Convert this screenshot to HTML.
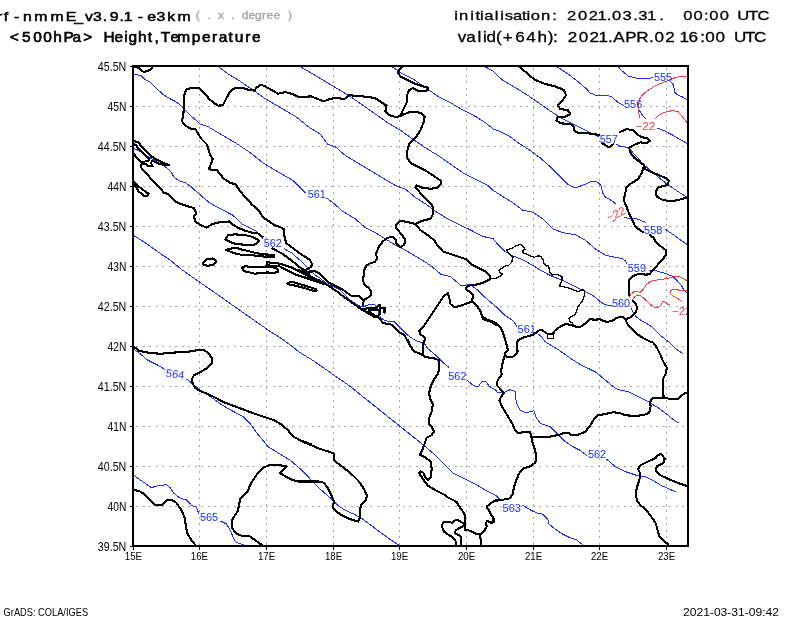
<!DOCTYPE html>
<html lang="en"><head><meta charset="utf-8"><title>wrf-nmmE 500hPa Height,Temperature</title>
<style>html,body{margin:0;padding:0;background:#fff}body{width:800px;height:618px;overflow:hidden}svg{display:block}text{font-family:"Liberation Sans","DejaVu Sans",sans-serif}</style></head><body>
<svg width="800" height="618" viewBox="0 0 800 618">
<rect width="800" height="618" fill="#fff"/>
<defs><clipPath id="plot"><rect x="133" y="66" width="555" height="480"/></clipPath></defs>
<g stroke="#a8a8a8" stroke-width="1" stroke-dasharray="2 4.5" fill="none" shape-rendering="crispEdges">
<line x1="199.5" y1="68" x2="199.5" y2="546"/>
<line x1="266.5" y1="68" x2="266.5" y2="546"/>
<line x1="333.5" y1="68" x2="333.5" y2="546"/>
<line x1="399.5" y1="68" x2="399.5" y2="546"/>
<line x1="466.5" y1="68" x2="466.5" y2="546"/>
<line x1="533.5" y1="68" x2="533.5" y2="546"/>
<line x1="599.5" y1="68" x2="599.5" y2="546"/>
<line x1="666.5" y1="68" x2="666.5" y2="546"/>
<line x1="136" y1="106.5" x2="688" y2="106.5"/>
<line x1="136" y1="146.5" x2="688" y2="146.5"/>
<line x1="136" y1="186.5" x2="688" y2="186.5"/>
<line x1="136" y1="226.5" x2="688" y2="226.5"/>
<line x1="136" y1="266.5" x2="688" y2="266.5"/>
<line x1="136" y1="306.5" x2="688" y2="306.5"/>
<line x1="136" y1="346.5" x2="688" y2="346.5"/>
<line x1="136" y1="386.5" x2="688" y2="386.5"/>
<line x1="136" y1="426.5" x2="688" y2="426.5"/>
<line x1="136" y1="466.5" x2="688" y2="466.5"/>
<line x1="136" y1="506.5" x2="688" y2="506.5"/>
</g>
<g clip-path="url(#plot)">
<g fill="none" stroke="#1830ff" stroke-width="1" stroke-linejoin="round" shape-rendering="crispEdges">
<path d="M618.2 66.9 L623 71.7 L628.5 76.2 L636.8 78.3 L645 78.3 L653.3 77.9"/>
<path d="M670.5 81.3 L673.9 85.4 L674.2 91.6 L676.7 94.4 L682.2 96.9 L687.7 99.9"/>
<path d="M557.7 67.1 L567.8 73.8 L577.8 81.4 L587.8 90.1 L590 93 L595.5 95.1 L607.9 95.5 L612 97.1 L617.5 102 L623.7 105.4"/>
<path d="M638.8 109.5 L641.6 114.3 L645.7 118.5"/>
<path d="M657.4 128.1 L664.3 130.8 L672.5 135 L679.4 139.1 L687.7 143.9"/>
<path d="M484.4 66.3 L493.2 71.3 L502.5 80.1 L515.1 87.6 L527.6 95.2 L540.2 103.9 L552.7 112.7 L562.8 119 L572.8 124 L585.3 130.3 L595.4 135.3 L599.1 136.6"/>
<path d="M616.7 144.1 L620.5 146.6 L628 147.3 L635.5 155.4 L643 164.1 L653.1 172.9 L665.6 183 L678.2 191.7 L688.2 198"/>
<path d="M391.6 66.3 L400.4 72.6 L412.9 78.9 L425.4 87.6 L438 96.4 L450.5 102.7 L463.1 110.2 L475.6 116.5 L485.6 122.8 L493.2 129 L500 131.5 L510.1 136.6 L520.1 144.1 L530.1 150.4 L540.2 157.9 L550.2 166.7 L560.2 176.7 L567.8 184.2 L575.3 188 L585.3 184.2 L590.4 181.7 L592.4 181.1 L597.9 182.1 L601.3 186.2 L602.7 193.1 L605.4 197.2 L611.6 200.6 L616.5 204.5"/>
<path d="M624 217.1 L629.5 218.8 L635 218.2 L640.5 220.2 L645.7 222.4"/>
<path d="M664.6 228.8 L670.8 233 L677.7 237.8 L683.2 241.9 L687.3 244.6"/>
<path d="M299.4 66.3 L310.7 72.6 L312.5 73.8 L325.1 81.4 L337.6 88.9 L350.2 96.4 L362.7 105.2 L375.3 114 L387.8 122.8 L400.4 130.3 L412.9 139.1 L425.4 147.8 L438 155.4 L450.5 164.1 L463.1 172.9 L475.6 179.2 L488.2 185.5 L492.5 190 L502.5 196.3 L512.6 202.5 L522.6 210.1 L532.6 212.1 L542.7 218.9 L552.7 228.9 L562.8 232.6 L575.3 234.7 L585.3 240.2 L595.4 249 L605.4 255.2 L615.4 257.2 L623 259 L625 260.6 L626.9 263.8"/>
<path d="M648.1 270 L653.8 270.2 L660 271.9 L666.2 273.8 L672.5 276.2 L677.5 281.2 L681.2 285 L683.8 290 L687.5 293.1"/>
<path d="M217.8 66.3 L227.9 73.8 L240.4 81.4 L253 90.1 L265.5 98.9 L280.6 107.7 L295.6 116.5 L308.2 126.5 L310 127.8 L320.1 134 L327.6 144.1 L335.1 146.6 L345.2 155.4 L357.7 162.9 L370.2 170.4 L382.8 177.9 L395.3 185.5 L405.4 189.2 L415.4 197.5 L425.4 203.8 L435.5 211.3 L445.5 217.6 L458.1 223.9 L470.6 230.1 L483.1 236.4 L493.2 238.9 L497.5 243.9 L505.1 251.5 L512.6 255.7 L522.6 259.7 L532.6 265.3 L542.7 271.5 L552.7 276.6 L562.8 280.3 L572.8 285.3 L582.8 290.4 L592.9 295.4 L600.4 301.6 L605.4 304.9 L611.7 305.4"/>
<path d="M631.2 308.1 L633.1 312.5 L636.2 316.9 L641.2 320.6 L646.2 323.1 L651.2 326.5 L660.6 335.5 L670.6 343.5 L675.6 348.8 L683.2 353.8"/>
<path d="M133.8 74.4 L141.2 75.6 L145 79.4 L150 81.9 L157.5 89.4 L163.8 95 L170 98.8 L175 101.2 L180 105 L190.2 115.2 L200.3 124 L207.8 126.5 L220.4 134 L235.4 142.8 L250.5 152.9 L263 162.9 L275.5 170.4 L293.1 180.5 L305.6 193"/>
<path d="M326.3 198 L333.9 203.5 L342.6 211.3 L355.2 218.9 L365.2 227.6 L375.3 232.6 L385.3 238.9 L395.3 245.2 L405.4 250.2 L417.9 257.7 L430.5 265.3 L440.5 274 L450.5 276.6 L460.6 285.3 L470.6 284.8 L478.1 290.4 L485.6 297.9 L490 301.6 L497.5 307.9 L505.1 315.4 L512.6 320.5 L513.9 321.8 L516.9 326.4"/>
<path d="M538 333.9 L541.7 336.9 L544.8 341.4 L550.8 345.2 L558.3 349.7 L565.8 355 L573.4 360.2 L580.9 364.8 L588.4 368.5 L596 372.3 L605.4 380.2 L612.9 386.4 L617.9 389.7 L628 391.5 L638 396.5 L648.1 401.5 L658.1 407.8 L668.1 415.3 L675.6 421.6 L679.4 422.8"/>
<path d="M133.1 148.1 L137.5 150 L142.5 153.1 L148.8 156.9 L155 160.6 L161.2 164.4 L166.2 167.5 L171.2 171.9 L173.8 176.9 L178.8 180.6 L185 182.5 L191.2 186.9 L197.5 192.5 L203.8 198.1 L210 203.1 L222.9 210.1 L232.5 215 L237.5 219.4 L242.5 224.4 L248.8 227.5 L256.2 231.2 L260 235.6 L263.1 238.8"/>
<path d="M283.8 248.1 L287.5 250.6 L291.2 252.5 L296.2 256.9 L301.2 261.2 L306.2 266.2 L310 270.6 L315 275 L320 278.1 L327.5 284.4 L333.8 286.9 L340 290 L345 295 L348.8 299.4 L353.8 302.5 L360 306.2 L365 306.2 L370 304.4 L375 305 L377.5 308.8 L378.8 313.8 L381.2 318.1 L385 320.6 L390 321.5 L394.1 321.7 L400.4 328 L407.9 335.5 L415.4 340.5 L424.2 343.5 L427.9 348.8 L435.5 355.1 L443 362.6 L449.3 367.6"/>
<path d="M466.8 380.2 L473.1 385.2 L478.1 387.2 L481.9 381.4 L485.6 381.4 L489.4 386.4 L495.7 390.2 L497.5 392.7 L503.8 392.7 L510.1 389.7 L515.1 391.5 L516.3 402.8 L520.1 410.3 L526.4 412.8 L533.9 410.8 L536.4 417.8 L540.2 423.3 L550.2 426.6 L557.7 434.1 L565.3 441.6 L572.8 446.7 L580.3 450.4 L586.6 455.4"/>
<path d="M606.7 459.2 L615.4 466.7 L625.5 471.7 L635.5 475 L645.5 476.8 L653.1 480.5 L660.6 485.2 L670.6 489.7 L675.6 491.5"/>
<path d="M133.3 235.2 L145.1 242.7 L157.6 251.5 L170.2 260.2 L182.7 270.3 L195.3 279.1 L207.8 287.8 L220.4 296.6 L232.9 305.4 L245.4 314.2 L258 323 L270.5 331.7 L280.6 338 L289.3 344.3 L300 352.6 L312.5 360.1 L325.1 368.9 L337.6 377.7 L350.2 386.4 L362.7 396.5 L375.3 406.5 L387.8 416.6 L400.4 426.6 L412.9 436.6 L425.4 446.7 L435.5 455.4 L445.5 465.5 L453 473 L463.1 478 L474.4 483.5 L485.6 490.2 L495.7 495.3 L499.9 499 L496.3 496.5 L501.3 500.3"/>
<path d="M522.6 505.3 L530.1 509.8 L536.4 512.8 L542.7 514.1 L547.7 519.1 L549 524.1 L555.2 529.1 L562.8 534.1 L570.3 537.9 L576.6 539.9 L582.8 544.7"/>
<path d="M133.3 348.8 L140.1 353.8 L147.6 360.1 L157.6 365.1 L165.2 369.6"/>
<path d="M186.5 378.9 L192.8 383.9 L200.3 390.2 L210.3 396.5 L220.4 404 L230.4 409.8 L242.9 416.6 L250.5 424.1 L256.7 432.9 L263 440.4 L268 446.7 L278.1 452.9 L290.6 460.5 L300.6 469.2 L308.2 476.8 L314.4 483.5 L320.1 489 L330.1 497.8 L337.6 505.3 L345.2 510.3 L353.9 514.1 L362.7 519.1 L372.8 526.6 L382.8 534.1 L391.6 540.4 L398.3 544.9"/>
<path d="M133.3 474.7 L138.8 479 L145.1 483.2 L151.4 487.7 L157.6 485.7 L166.4 484.7 L170.2 487.7 L173.9 493.3 L180.2 498.3 L186.5 499.8 L191.5 505.3 L196.5 507.3 L199 514.1"/>
<path d="M220.4 520.9 L226.6 524.1 L230.4 530.4 L232.9 536.7 L235.4 541.7 L239.2 543.7 L244.2 544.7"/>
</g>
<g fill="none" stroke="#fa3c3c" stroke-width="1" stroke-linejoin="round" shape-rendering="crispEdges">
<path d="M687.9 76.2 L679.4 76.5 L672.5 78.6 L664.3 82 L656 85.4 L649.1 89.6 L643.6 93.7 L640.2 97.8 L638.4 104 L638.1 109.5 L639.2 115 L640.2 118.5"/>
<path d="M655.3 118.5 L658.8 115 L664.3 112.3 L672.5 110.6 L678 111.6 L682.2 116.4 L686.3 121.9 L687.9 123.5"/>
<path d="M613 221.3 L616 219.1"/>
<path d="M629.4 298.1 L630.6 294.4 L633.8 291.9 L637.5 291.2 L640 292.5 L643.1 289.4 L646.2 285 L650 281.5 L655 280.2 L662.5 279.4 L670 277.8 L675 276.5 L680 276.9 L683.8 278.8 L687.5 281.2"/>
<path d="M631.9 300.6 L634.4 296.9 L637.5 295 L641.2 296.2 L645 299.4 L650 303.8 L655 307.5 L658.8 307.5 L661.2 305 L663.1 301.2 L665 301.9 L668.1 304.4 L670 304.8"/>
<path d="M687.5 290 L680 290.2 L673.8 289.4 L670.6 290.6 L670.2 293.1 L672.5 295.6 L676.2 297.5 L680 300 L682.5 302.5"/>
</g>
<g fill="none" stroke="#000" stroke-width="2.1" stroke-linejoin="round" stroke-linecap="round" shape-rendering="crispEdges">
<path d="M400.4 116 L396.6 117.2 L389.1 115.2 L385.3 111.5 L386.6 105.7 L380.3 101.4 L375.3 98.2 L367.7 96.9 L357.7 95.9 L348.9 95.2 L343.9 99.4 L337.6 97.7 L330.1 98.9 L323.8 101.4 L317.6 98.9 L311.3 96.4 L305.6 96.7 L298.1 96.7 L293.1 94.2 L285.6 92.1 L278.1 93.7 L270.5 89.4 L264.3 85.9 L260.5 84.6 L256.7 87.6 L254.2 90.6 L247.9 89.6 L242.9 88.1 L235.4 87.6 L230.4 91.4 L226.6 97.7 L222.9 105.2 L218.3 105.7 L214.1 103.2 L209.1 98.9 L204 92.6 L199.8 88.4 L192.8 87.6 L186.5 89.4 L184.5 93.9 L184 102.7 L183.5 112.7 L182 121.5 L185.7 125.3 L189 128.3 L195.3 129 L198.3 134 L200.8 138.3 L206.6 144.1 L208.3 149.1 L209.8 154.1 L212.8 159.1 L210.8 164.1 L208.8 169.4 L216.6 169.9 L220.4 174.2 L223.4 178.4 L230.4 183 L235.4 184.2 L240.4 191.7 L246.7 198.5 L251.7 204.3 L259.2 211.3 L263.1 217.5 L270 221.9 L273.8 225 L280 226.9 L284.4 229.4 L283.8 233.8 L285 238.1 L286.2 243.1 L291.2 246.9 L296.2 250.6 L301.2 254.4 L306.2 257.5 L310 260 L311.9 263.8 L311.2 266.9 L307.5 268.8 L305 270.6"/>
<path d="M307.5 271.9 L315 271.2 L318.8 273.1 L323.8 278.1 L328.8 282.5 L335 285.6 L342.5 289.4 L347.5 293.1 L351.2 295.6 L358.8 295.6 L362.5 299.4 L363.5 300.6"/>
<path d="M415.4 223.9 L407.9 222.1 L400.4 220.9 L396.6 223.9 L395.8 227.6 L399.1 231.4 L402.9 236.4 L405.4 240.2 L404.1 244.7 L400.4 247.2 L396.6 243.9 L395.3 238.9 L392.8 236.9 L387.8 237.7 L382.8 241.4 L379 246.4 L376.5 252.7 L376.2 253.8 L376.9 258.8 L375 261.9 L370 263.5 L366.2 265.6 L364.4 270 L363.8 275 L362.8 280 L364.4 284.4 L368.1 287.5 L371 290.6 L371.2 294.4 L368.1 297.5 L363.8 300 L363.1 305"/>
<path d="M400.4 116 L407.9 112.7 L414.1 111.5 L421.7 113.2 L424.7 116.5 L423.4 122.8 L420.4 130.3 L415.4 137.8 L409.1 144.1 L407.4 150.4 L406.6 156.6 L410.4 162.9 L417.9 166.7 L425.4 170.4 L433 175.4 L440.5 180.5 L441.2 184.2 L436.7 188 L430.5 188.7 L422.9 188 L416.7 185.5 L415.4 187.5 L420.4 193 L426.7 199.3 L431.7 204.3 L433.5 208.8 L432.5 215.1 L430.5 218.9 L422.9 220.6 L415.4 223.9"/>
<path d="M400.4 116 L402.9 110.2 L406.6 102.7 L406.6 96.4 L409.1 90.1 L412.9 88.1 L417.9 90.6 L424.2 91.4 L427.9 90.1 L427.4 87.1 L422.9 86.4 L415.4 83.9 L407.9 80.1 L400.4 76.3 L397.8 72.6 L400.4 68.1 L402.9 66.3"/>
<path d="M520.1 67.1 L527.6 73.8 L535.2 80.1 L545.2 83.9 L555.2 86.4 L564 90.1 L566 95.2 L562.8 100.2 L557.7 105.2 L560.2 109 L567.8 110.2 L570.3 114 L565.3 116.5 L557.7 117.2 L556.5 120.2 L560.2 123.3 L570.3 124 L574 126.5 L574 130.3 L577.8 132.8 L585.3 132.8 L592.9 134 L599.1 134.8"/>
<path d="M602.4 143.3 L609.2 147.3 L613.4 144.3"/>
<path d="M620 132 L626.7 129 L633 130.3 L638 134.8 L641.8 137.3 L646.8 137.8 L649.8 140.8 L646.8 143.3 L640.5 142.3 L634.3 144.8 L629.2 147.8 L630.5 152.9 L634.3 157.9 L639.3 161.6 L644.3 165.4 L645.5 169.2 L650.6 171.7 L658.1 174.9 L665.6 177.9 L668.9 180.5 L667.6 185 L663.1 186 L658.1 187.5 L655.6 191.7 L656.8 196.8 L663.1 200 L670.6 201.3 L678.2 200 L685.7 198 L688.2 198.5"/>
<path d="M644.3 165.4 L641.8 172.9 L638 179.2 L631.7 183 L626.7 186.7 L625 194.3 L623.7 200.5 L626.1 205.4 L628.1 210.9 L630.2 215.8 L633 221.3 L635 226.1 L639.1 229.5 L643.3 232.3"/>
<path d="M649.5 235 L653.6 237.8 L656.3 242.6 L661.2 246.7 L666 250.2 L666 255 L662.5 259.4 L657.5 265 L652.5 270.6 L649.4 274.4 L645 274.6 L640 273.8 L635 275 L631.2 277.5 L629 280.6 L628.8 287.5 L629 295.6"/>
<path d="M632.8 300.6 L635.6 303.8 L637.2 307.5 L636.2 311.2 L633.8 314.4 L630 317.5 L625.6 319.4"/>
<path d="M625.6 319.4 L626.9 323.1 L629.4 326.5 L635.5 333 L643 338 L650.6 341.8 L653.1 342.5 L656.8 347.6 L660.6 355.1 L663.1 361.4 L666.9 367.6 L665.6 373.9 L663.1 378.9 L663.1 387.7 L663.6 397.7"/>
<path d="M663.6 397.7 L670.6 399 L678.2 399 L681.9 395.2 L685.7 392.7 L688.2 392.7"/>
<path d="M625.6 319.4 L622.5 316.9 L620 316.9 L616.2 318.1 L612.5 320.6 L607.5 321.9 L603.8 321.2 L600 319.4 L594.5 319.6 L589.9 319.3 L585.4 323.3 L581.7 326.4 L577.9 327.1 L573.4 325.9"/>
<path d="M573.4 325.9 L570.4 324.8 L565.8 324.1 L562.1 325.6 L558.3 327.9 L554.5 330.9 L553.8 333.4 L549.3 333.9 L546.3 333.4 L543.3 330.9 L540.2 329.8 L537.2 331.6 L533.5 334.6 L528.2 336.1 L522.9 337.7 L518.4 339.9 L516.9 342.9 L516.9 346.7 L517.7 351.2 L516.1 354.2 L512.4 356.9 L507.9 357.2 L504.8 355"/>
<path d="M471.9 301.6 L476.9 305.4 L480.6 311.7 L483.1 319.2 L490.7 321.7 L496.9 325.5 L482.3 316.6 L486 319.6 L492 321.1 L496.6 323.3 L500.3 327.1 L502.6 331.6 L504.1 336.1 L505.6 341.4 L507.1 346.7 L507.9 349.7 L505.6 352 L504.8 355"/>
<path d="M504.8 355 L503.3 360.2 L501.8 366.3 L501.1 370.8 L501.8 374.5 L498.8 378.3 L496.9 382.1 L497.3 385.8 L501.1 389.6 L500 389 L503.8 392.7 L501.3 396.5 L499.5 400.2 L501.3 405.3 L505.1 411.5 L508.8 417.8 L512.6 424.1 L515.1 430.4 L518.9 433.4 L523.9 431.6 L530.1 431.6 L531.4 436.6"/>
<path d="M531.4 436.6 L532.6 442.9 L535.2 450.4 L536.4 457.9 L536.4 457.6 L535.2 462.6 L530.1 466.4 L522.6 468.9 L518.9 473.9 L516.3 480.2 L513.8 487.7 L512.6 494 L510.1 498.3 L502.5 499.8 L496.3 500.8 L500 500 L497.3 499.8 L494.3 501 L490.3 503.6 L487.3 506.1 L487.1 508.1 L488.8 510.1 L490.3 513.1 L492.3 516.6 L494.3 519.6 L493.8 522.1 L491.8 522.9 L489.3 521.6 L486.8 521.3 L485.8 523.6 L486.8 526.6 L485.3 529.2 L482.8 532.2 L480.2 534.2 L477.7 534.2"/>
<path d="M531.4 436.6 L540.2 436.6 L550.2 436.6 L559 434.9 L564 432.9 L569 432.9 L571.5 435.4 L577.8 434.9 L585.3 431.6 L590.4 425.3 L594.1 419.1 L597.9 415.3 L605.4 414 L612.9 412.3 L619.2 412.8 L625.5 415.3 L634.3 415.8 L643 415.3 L649.3 412.8 L650.6 406.5 L650.1 401.5 L653.1 398.2 L663.6 397.7"/>
<path d="M415.4 223.9 L420.4 230.1 L427.9 235.2 L434.2 240.2 L438 246.4 L443 251.5 L450.5 254 L458.1 256.5 L465.6 259 L470.6 264 L478.1 267.8 L485.6 271.5 L489.4 275.3 L490.2 279.1"/>
<path d="M490.2 279.1 L483.1 282.8 L475.6 284.8 L470.6 285.3 L466.8 286.6 L465.6 289.1 L469.3 291.6 L473.1 295.4 L471.9 301.6"/>
<path d="M471.9 301.6 L463.1 304.9 L454.3 307.4 L450.5 304.1 L449.3 297.9 L448 293.4 L444.3 295.4 L439.2 302.9 L434.2 310.4 L429.2 317.9 L424.2 325.5 L419.2 330.5 L420.4 334.3 L425.4 338 L425.4 338.8 L422.9 343.8 L422.9 350.1 L423.4 355.1 L425.4 357.1"/>
<path d="M134.8 66.9 L138.8 68.1 L143.8 72.2 L150 70 L152.5 66.9"/>
<path d="M133.1 140.6 L136.2 141.9 L138.8 142.5 L141.2 146.2 L146.2 151.2 L151.2 156.2 L156.2 159.4 L162.5 162.5 L168.8 165 L163.8 164.8 L158.8 163.8 L155 161.9 L151.9 160.6 L151.2 163.1 L152.5 166.2 L148.8 166.2 L146.2 164.4 L142.5 163.8 L140.6 165.6 L141.9 168.8 L145 172.5 L148.8 176.2 L153.1 181.2 L156.9 185 L160.6 188.8 L164.4 193.1 L168.1 193.8 L171.2 197.5 L174.4 200.6 L178.1 203.1 L182.5 204.4 L188.8 206.5 L194 208.1 L196.5 213.8 L194 216.3 L195.3 221.4 L200.3 225.1 L206.6 227.6 L212.8 223.9 L220.4 222.1 L220 221.9 L230 221.5 L232.5 224.4 L238.8 228.1 L245 230.6 L251.2 232.5 L257.5 233.1 L262.5 236.9"/>
<path d="M133.1 144 L136 145.2 L138.5 148.4 L142.2 152.5 L146 156.2 L149 159.1 L148.4 160.8 L145 161.5 L141.9 162.8 L138.8 160 L135.6 156.2 L133.1 153.1"/>
<path d="M133.1 181.2 L135.6 183.8 L140 187.5 L145 191.2 L148.5 193.8 L146.9 196 L143.8 195.6 L140 192.5 L138.1 191.2 L136.9 187.5 L133.8 185 L133.1 185"/>
<path d="M272.5 248.5 L277.5 251.2 L282.5 253.8 L287.5 257.5 L292.5 261.2 L296.2 264.4 L300 267.5 L305 270.6 L308.8 272.5"/>
<path d="M225.6 239.4 L228.1 235 L235 234.4 L245 235 L252.5 236.9 L257.5 239.4 L259.4 241.2 L255 244.4 L250 245 L240 244.4 L232.5 243.1 L227.5 240.6 L225.6 239.4"/>
<path d="M225.6 250 L230 248.8 L236.2 247.8 L241.2 249.4 L248.8 251.2 L256.2 253.1 L263.8 254.4 L273.8 254.8 L274 256.9 L267.5 256.9 L258.8 256 L251.2 255.2 L242.5 255 L236.2 253.8 L231.2 251.9 L225.6 250"/>
<path d="M241.9 267.5 L245 266.2 L252.5 267.2 L260 266.9 L266.2 266.5 L272.5 267.2 L277.5 268.8 L278.1 271.9 L273.8 272.8 L267.5 272.5 L261.2 272.8 L255 273.8 L248.8 272.2 L243.8 271.2 L241.9 267.5"/>
<path d="M202.8 262.8 L206.6 259 L212.8 258.5 L216.6 261 L214.1 264.5 L207.8 265.8 L203.3 264.8 L202.8 262.8"/>
<path d="M266.9 264.4 L266.9 261.9 L269.4 262.5 L276.2 263.1 L282.5 264.4 L287.5 266.2 L292.5 268.1 L297.5 270 L302.5 271.2 L307.5 272.8 L309.4 274.4"/>
<path d="M266.9 264.4 L270 265.6 L275 266 L280 266.5 L283.8 268.8 L288.8 271.2 L293.8 273.8 L298.8 275.6 L305 277.5 L311.2 278.8 L320 280.6 L302.5 276.9 L310 279.4 L317.5 281.9 L325 284.4"/>
<path d="M287.5 283.5 L290 282 L295 282.6 L302.5 285 L310 287.2 L315.6 289 L316.6 290.6 L312.5 290.6 L305 288.2 L297.5 286.2 L290 284.6 L287.5 283.5"/>
<path d="M290 266.9 L297.5 270.6 L305 274.4 L311.2 276.9 L318.8 280.6 L326.2 284.4 L331.2 287.5 L337.5 291.9 L343.8 296.9 L350 301.2 L356.2 305.6 L361.2 308.8 L365 311.2 L359 308 L363.5 310.3 L366.5 312.5 L369.5 314 L374 316.6 L378.5 317.4 L380.8 319.6 L382.3 322.3 L386 323.8 L390.5 324.1 L392.8 325.6 L395.8 329 L399.5 332.4 L404 335 L405.4 336.8 L409.1 344.3 L407.9 340 L410.4 346.3 L414.1 351.3 L420.4 353.8 L425.4 357.1 L433 358.1 L438.7 360.1 L439.2 367.6 L438 373.9 L434.2 378.9 L431 385.2 L429.2 392.7 L430 399 L433 404 L431.7 411.5 L429.2 417.8 L429.2 424.1 L430.5 425 L434.2 431.3 L431.7 435.1 L426.7 437.6 L424.2 445.1 L421.7 451.4 L419.9 454.6 L425.4 457.6 L430.5 461.4 L431.7 468.9 L431 476.4 L428.4 480.2 L425.4 477.2 L423.4 472.7 L420.4 471.4 L419.2 473.2 L422.9 479 L427.9 485.7 L435.5 490.2 L445.5 495.3 L446.1 496.5 L452.1 499.5 L456.6 502 L458.7 505.6 L461.2 509.1 L463.7 512.6 L465 515.6 L465.2 520.1 L465 524.1 L464.7 530.2 L468.2 530.2 L472.2 531.7 L476.2 533.7 L479.2 534.2 L480.2 537.2 L481 541.2 L481.2 545.2"/>
<path d="M363.5 308.8 L368 308.4 L372.5 308 L376.3 308.4 L378.5 305 L379.6 304.6 L379.6 308 L384.5 307.6 L384.5 312.5"/>
<path d="M380 308.8 L380 314 L378.5 315.9 L374.8 315.5 L371.8 313.3 L368.8 311.8 L366.5 313.3"/>
<path d="M368.8 309.9 L378.5 309.9"/>
<path d="M465.2 524.1 L462.2 522.6 L458.7 520.6 L456.6 519.6 L454.1 521.1 L452.1 523.1 L450.1 522.1 L444.6 521.9 L442.6 523.6 L441.6 526.1 L443.1 529.2 L444.1 531.7 L446.6 533.7 L450.1 535.7 L453.6 538.2 L455.6 541.2 L456.1 545.2"/>
<path d="M464.2 524.6 L461.7 527.1 L458.7 528.2 L456.1 530.2 L454.6 532.2 L456.6 534.2 L459.7 535.2 L461 537.2 L461 545.2"/>
<path d="M490 512.8 L492.5 516.6 L493.8 520.4 L491.3 522.9 L490 521.6"/>
<path d="M688.2 486.5 L680.7 484 L673.1 481 L665.6 477.7 L659.3 474.7 L655.6 470.2 L656.8 466.4 L663.1 463.2 L664.9 458.9 L661.1 453.9 L657.6 455.1 L655.6 458.1 L648.1 461.4 L640.5 465.2 L638 468.9 L640.5 473.9 L639.3 480.2 L636.8 487.7 L636 494 L636.8 500.3 L640.5 505.3 L645.5 509.1 L649.3 514.1 L653.1 519.1 L656.1 524.1 L657.6 530.4 L659.3 536.7 L663.1 540.4 L668.1 544.2"/>
<path d="M133.3 346.3 L138.8 350.6 L147.6 352.6 L160.1 353.8 L172.7 352.6 L185.2 352.1 L195.3 350.6 L202.8 349.6 L207.8 352.6 L211.6 357.6 L212.1 362.6 L207.8 367.6 L200.3 372.1 L194 375.2 L192 378.9 L192.8 383.9 L195.3 388.2 L201.5 391.5 L207.8 394 L215.3 397.7 L225.4 402.8 L235.4 406.5 L245.4 410.3 L255.5 414 L265.5 417.3 L274.3 420.3 L281.8 424.8 L288.1 430.4 L293.1 436.6 L300.6 440.4 L310.7 444.1 L300 440.6 L310 444.6 L320.1 448.9 L330.1 452.1 L334.4 453.9 L333.9 459.6 L337.6 463.2 L345.2 468.9 L352.7 475.2 L359 481.5 L364 489 L367 495.3 L365.7 500.3 L361.5 504.8 L359.7 510.3 L360.2 516.6 L358.2 521.6 L353.9 520.4 L348.9 518.6 L342.6 515.8 L336.4 511.6 L332.6 507.3 L333.9 501.5 L331.4 495.3 L327.6 487.7 L323.8 482.7 L318.8 481.5 L310 481.5 L300 481.5 L310.7 481.5 L298.1 481.5 L291.9 479.7 L285.6 476.4 L279.8 473.2 L283.1 470.2 L286.8 466.4 L279.3 465.2 L270.5 464.7 L263 467.7 L258 472.7 L253 480.2 L250 485.2 L247.9 491.5 L244.2 495.3 L239.9 499 L239.2 505.3 L237.4 511.6 L234.1 516.6 L231.6 521.6 L232.1 527.9 L235.4 532.9 L241.7 535.9 L249.2 535.9 L255.5 540.4 L261.7 544.9"/>
<path d="M133.3 489.7 L140.1 491.5 L145.1 494.8 L150.1 499.8 L155.1 505.3 L161.4 505.3 L166.4 500.3 L171.4 499.8 L176.4 502.8 L181.5 510.3 L184.7 517.8 L185.7 525.4 L187.2 532.9 L191.5 540.4 L195.3 544.9"/>
</g>
<g fill="none" stroke="#000" stroke-width="1.5" stroke-linejoin="round" stroke-linecap="round" shape-rendering="crispEdges">
</g>
<g fill="none" stroke="#000" stroke-width="1.3" stroke-linejoin="round" stroke-linecap="round" shape-rendering="crispEdges">
<path d="M547.8 333.9 L547.8 338.4 L553.8 338.4 L553.8 333.9"/>
<path d="M490.5 278.9 L495.1 278.5 L499.6 276.4 L502.6 274.4 L499.6 271.9 L498.8 270.4 L501.1 268.9 L504.8 266.1 L508.6 265.4 L511.6 262.4 L512.4 259.4 L513.1 256.8 L510.1 254.8 L507.9 252.6 L506.8 249.6 L511.6 248.4 L516.1 245.8 L520.7 244.3 L523.7 246.6 L525.2 249.6 L522.9 250.3 L522.9 252.6 L526.7 254.1 L530.5 255.9 L534.2 257.4 L538 255.6 L541 256.8 L543.3 260.1 L544 263.9 L546.3 266.1 L548.5 265.4 L549.3 269.2 L550 272.9 L552.3 274.9 L556.8 274.4 L562.1 276.7 L562.1 280.5 L560.6 282.7 L559.8 286 L564.3 286.9 L568.9 288 L573.4 289.9 L577.9 291.7 L580.9 290.2 L583.9 289.9 L584.7 293.3 L583.9 297 L582.4 300.8 L580.2 303.8 L577.9 306.8 L576.4 311.3 L574.9 315.1 L571.1 316.6 L568.9 318.1 L569.6 321.1 L572.6 323.3 L573.4 325.9"/>
</g>
<g font-size="11.2" text-anchor="middle">
<text x="663" y="81.45" fill="#1830ff" textLength="18.2" lengthAdjust="spacingAndGlyphs">555</text>
<text x="633.1" y="108.05" fill="#1830ff" textLength="18.2" lengthAdjust="spacingAndGlyphs">556</text>
<text x="608.8" y="142.75" fill="#1830ff" textLength="18.2" lengthAdjust="spacingAndGlyphs">557</text>
<text x="653.2" y="234.05" fill="#1830ff" textLength="18.2" lengthAdjust="spacingAndGlyphs">558</text>
<text x="636.9" y="272.45" fill="#1830ff" textLength="18.2" lengthAdjust="spacingAndGlyphs">559</text>
<text x="621" y="306.85" fill="#1830ff" textLength="18.2" lengthAdjust="spacingAndGlyphs">560</text>
<text x="316.75" y="197.95" fill="#1830ff" textLength="18.2" lengthAdjust="spacingAndGlyphs">561</text>
<text x="526.7" y="333.05" fill="#1830ff" textLength="18.2" lengthAdjust="spacingAndGlyphs">561</text>
<text x="272.8" y="246.85" fill="#1830ff" textLength="18.2" lengthAdjust="spacingAndGlyphs">562</text>
<text x="457.4" y="379.85" fill="#1830ff" textLength="18.2" lengthAdjust="spacingAndGlyphs">562</text>
<text x="597" y="458.25" fill="#1830ff" textLength="18.2" lengthAdjust="spacingAndGlyphs">562</text>
<text x="511.7" y="512.25" fill="#1830ff" textLength="18.2" lengthAdjust="spacingAndGlyphs">563</text>
<text x="175.2" y="377.95" fill="#1830ff" textLength="18.2" lengthAdjust="spacingAndGlyphs" transform="rotate(8 175.2 373.9)">564</text>
<text x="209" y="520.85" fill="#1830ff" textLength="18.2" lengthAdjust="spacingAndGlyphs">565</text>
<text x="645.4" y="130.45" fill="#fa3c3c" textLength="19.6" lengthAdjust="spacingAndGlyphs">−22</text>
<text x="616" y="217.75" fill="#fa3c3c" textLength="19.6" lengthAdjust="spacingAndGlyphs" transform="rotate(-25 616 213.7)">−22</text>
<text x="672" y="314.8" fill="#fa3c3c" text-anchor="start" textLength="19.6" lengthAdjust="spacingAndGlyphs">−22</text>
</g>
</g>
<rect x="133" y="66" width="555" height="480" fill="none" stroke="#000" stroke-width="2" shape-rendering="crispEdges"/>
<g stroke="#000" stroke-width="1" shape-rendering="crispEdges">
<line x1="130" y1="66.5" x2="132" y2="66.5"/>
<line x1="130" y1="106.5" x2="132" y2="106.5"/>
<line x1="130" y1="146.5" x2="132" y2="146.5"/>
<line x1="130" y1="186.5" x2="132" y2="186.5"/>
<line x1="130" y1="226.5" x2="132" y2="226.5"/>
<line x1="130" y1="266.5" x2="132" y2="266.5"/>
<line x1="130" y1="306.5" x2="132" y2="306.5"/>
<line x1="130" y1="346.5" x2="132" y2="346.5"/>
<line x1="130" y1="386.5" x2="132" y2="386.5"/>
<line x1="130" y1="426.5" x2="132" y2="426.5"/>
<line x1="130" y1="466.5" x2="132" y2="466.5"/>
<line x1="130" y1="506.5" x2="132" y2="506.5"/>
<line x1="130" y1="546.5" x2="132" y2="546.5"/>
<line x1="133.5" y1="547" x2="133.5" y2="550"/>
<line x1="199.5" y1="547" x2="199.5" y2="550"/>
<line x1="266.5" y1="547" x2="266.5" y2="550"/>
<line x1="333.5" y1="547" x2="333.5" y2="550"/>
<line x1="399.5" y1="547" x2="399.5" y2="550"/>
<line x1="466.5" y1="547" x2="466.5" y2="550"/>
<line x1="533.5" y1="547" x2="533.5" y2="550"/>
<line x1="599.5" y1="547" x2="599.5" y2="550"/>
<line x1="666.5" y1="547" x2="666.5" y2="550"/>
</g>
<g font-size="12.4" fill="#000">
<text x="97.8" y="70.7" textLength="28.5" lengthAdjust="spacingAndGlyphs">45.5N</text>
<text x="107.5" y="110.7" textLength="18.8" lengthAdjust="spacingAndGlyphs">45N</text>
<text x="97.8" y="150.7" textLength="28.5" lengthAdjust="spacingAndGlyphs">44.5N</text>
<text x="107.5" y="190.7" textLength="18.8" lengthAdjust="spacingAndGlyphs">44N</text>
<text x="97.8" y="230.7" textLength="28.5" lengthAdjust="spacingAndGlyphs">43.5N</text>
<text x="107.5" y="270.7" textLength="18.8" lengthAdjust="spacingAndGlyphs">43N</text>
<text x="97.8" y="310.7" textLength="28.5" lengthAdjust="spacingAndGlyphs">42.5N</text>
<text x="107.5" y="350.7" textLength="18.8" lengthAdjust="spacingAndGlyphs">42N</text>
<text x="97.8" y="390.7" textLength="28.5" lengthAdjust="spacingAndGlyphs">41.5N</text>
<text x="107.5" y="430.7" textLength="18.8" lengthAdjust="spacingAndGlyphs">41N</text>
<text x="97.8" y="470.7" textLength="28.5" lengthAdjust="spacingAndGlyphs">40.5N</text>
<text x="107.5" y="510.7" textLength="18.8" lengthAdjust="spacingAndGlyphs">40N</text>
<text x="97.8" y="550.7" textLength="28.5" lengthAdjust="spacingAndGlyphs">39.5N</text>
</g>
<g font-size="11.3" fill="#000">
<text x="124.8" y="560" textLength="17.3" lengthAdjust="spacingAndGlyphs">15E</text>
<text x="190.8" y="560" textLength="17.3" lengthAdjust="spacingAndGlyphs">16E</text>
<text x="257.9" y="560" textLength="17.3" lengthAdjust="spacingAndGlyphs">17E</text>
<text x="324.9" y="560" textLength="17.3" lengthAdjust="spacingAndGlyphs">18E</text>
<text x="390.9" y="560" textLength="17.3" lengthAdjust="spacingAndGlyphs">19E</text>
<text x="457.9" y="560" textLength="17.3" lengthAdjust="spacingAndGlyphs">20E</text>
<text x="524.9" y="560" textLength="17.3" lengthAdjust="spacingAndGlyphs">21E</text>
<text x="590.9" y="560" textLength="17.3" lengthAdjust="spacingAndGlyphs">22E</text>
<text x="657.9" y="560" textLength="17.3" lengthAdjust="spacingAndGlyphs">23E</text>
</g>
<g fill="#000" stroke="#000" stroke-width="0.5">
<text transform="scale(1.22,1)" x="-14.94 -2.49 3.03 11.40 18.84 28.15 41.47 53.82 60.93 69.74 76.30 84.26 89.87 97.95 101.51 112.84 120.61 128.31 137.12 145.45" y="20.6" font-size="13">wrf-nmmE_v3.9.1-e3km</text>
<text transform="scale(1.06,1)" x="9.32 20.70 31.27 40.70 50.19 59.99 68.49 78.52 87.05 97.61 107.97 117.20 121.22 130.09 139.48 145.66 151.77 160.94 167.31 180.80 190.52 200.12 206.46 215.52 221.46 231.34 237.69" y="42.5" font-size="14.6" stroke-width="0.6">&lt;500hPa&gt; Height,Temperature</text>
</g>
<text transform="scale(1.2,1)" x="163.17 166.50 173.11 175.89 181.58 186.58 192.78 195.56 201.39 207.01 212.43 218.33 222.01 227.84 233.41 240.00" y="19.4" font-size="10" fill="#a4a4a4" stroke="#a4a4a4" stroke-width="0.3">( . x . degree )</text>
<g fill="#000" stroke="#000" stroke-width="0.3">
<text transform="scale(1.22,1)" x="372.26 376.30 385.46 389.71 393.49 397.04 405.62 410.05 413.73 420.40 427.82 431.60 435.15 443.43 452.70 456.48 464.66 473.80 482.61 489.78 497.29 501.55 510.23 519.01 523.19 530.36 540.32 544.10 559.99 568.43 577.13 581.38 589.99 597.55 604.35 613.26 620.83" y="20.5" font-size="13.6">initialisation: 2021.03.31. 00:00 UTC</text>
<text transform="scale(1.22,1)" x="375.19 382.17 391.48 395.90 398.77 406.48 412.10 422.42 431.35 440.57 448.90 453.30 457.19 465.37 474.39 483.28 490.66 498.47 502.63 512.46 521.58 531.95 536.39 545.29 553.07 556.97 564.34 573.96 578.16 586.48 594.26 601.58 610.68 618.02" y="42.5" font-size="14">valid(+64h): 2021.APR.02 16:00 UTC</text>
</g>
<g fill="#000" font-size="10.8">
<text x="3.6" y="616" textLength="84.5" lengthAdjust="spacingAndGlyphs">GrADS: COLA/IGES</text>
<text x="683" y="616" textLength="96" lengthAdjust="spacingAndGlyphs">2021-03-31-09:42</text>
</g>
</svg></body></html>
